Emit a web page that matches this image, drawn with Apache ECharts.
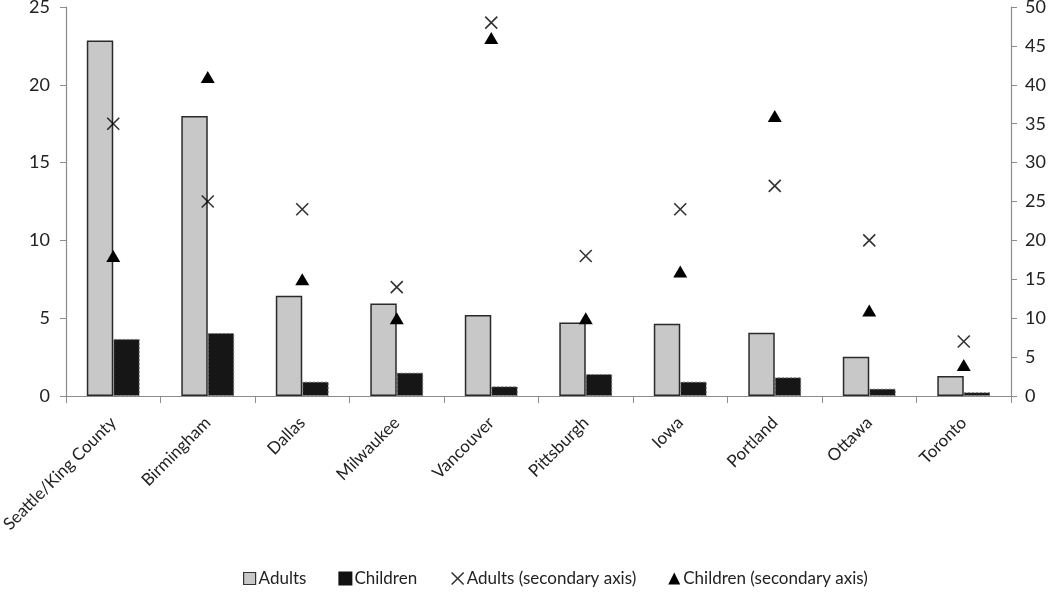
<!DOCTYPE html>
<html><head><meta charset="utf-8">
<script src="https://cdn.jsdelivr.net/npm/echarts@6/dist/echarts.min.js"></script>
<style>html,body{margin:0;padding:0;background:#fff}#c{width:1050px;height:603px}</style>
</head><body><div id="c"></div>
<script>
const categories = ['Seattle/King County','Birmingham','Dallas','Milwaukee','Vancouver','Pittsburgh','Iowa','Portland','Ottawa','Toronto'];
const adults = [22.85, 18.0, 6.45, 5.95, 5.2, 4.72, 4.64, 4.06, 2.52, 1.28];
const children = [3.67, 4.05, 0.92, 1.5, 0.62, 1.41, 0.92, 1.2, 0.47, 0.24];
const adultsSecondary = [35, 25, 24, 14, 48, 18, 24, 27, 20, 7];
const childrenSecondary = [18, 41, 15, 10, 46, 10, 16, 36, 11, 4];
const leftTicks = {min: 0, max: 25, interval: 5};
const rightTicks = {min: 0, max: 50, interval: 5};

const FONT = 'Lato, "Open Sans", sans-serif';
const crossPath = 'path://M0,0L10,10M10,0L0,10';
const chart = echarts.init(document.getElementById('c'));
const axisLine = {show: true, lineStyle: {color: '#8c8c8c', width: 1.2}};
chart.setOption({
  animation: false,
  textStyle: {fontFamily: FONT},
  grid: {left: 66, right: 39, top: 7, bottom: 207, containLabel: false, outerBoundsMode: 'none'},
  legend: {
    bottom: 11, left: 238, itemGap: 32, itemWidth: 12, itemHeight: 12,
    textStyle: {fontFamily: FONT, fontSize: 17, color: '#222', padding: [0,0,0,-2]},
    data: [
      {name: 'Adults', icon: 'rect', itemStyle: {color: '#c8c8c8', borderColor: '#333', borderWidth: 1.2}},
      {name: 'Children', icon: 'rect', itemStyle: {color: '#111', borderColor: '#111'}},
      {name: 'Adults (secondary axis)', icon: crossPath, itemStyle: {color: 'none', borderColor: '#000', borderWidth: 1.6}},
      {name: 'Children (secondary axis)', icon: 'triangle', itemStyle: {color: '#000'}}
    ]
  },
  xAxis: {
    type: 'category', data: categories,
    axisLine: axisLine,
    axisTick: {show: true, length: 7, lineStyle: {color: '#8c8c8c'}},
    axisLabel: {rotate: 45, fontSize: 17, color: '#222', margin: 24, interval: 0, fontFamily: FONT},
    splitLine: {show: false}
  },
  yAxis: [
    {type: 'value', min: leftTicks.min, max: leftTicks.max, interval: leftTicks.interval, position: 'left',
     axisLine: axisLine, axisTick: {show: true, length: 6, lineStyle: {color: '#8c8c8c'}},
     axisLabel: {fontSize: 18, color: '#222', margin: 16, fontFamily: FONT}, splitLine: {show: false}},
    {type: 'value', min: rightTicks.min, max: rightTicks.max, interval: rightTicks.interval, position: 'right',
     axisLine: axisLine, axisTick: {show: true, length: 6, lineStyle: {color: '#8c8c8c'}},
     axisLabel: {fontSize: 18, color: '#222', margin: 14, fontFamily: FONT}, splitLine: {show: false}}
  ],
  series: [
    {name: 'Adults', type: 'bar', yAxisIndex: 0, data: adults, barGap: '0%', barCategoryGap: '44%',
     itemStyle: {color: '#c8c8c8', borderColor: '#2a2a2a', borderWidth: 1.5}},
    {name: 'Children', type: 'bar', yAxisIndex: 0, data: children,
     itemStyle: {color: '#161616', borderColor: '#777', borderWidth: 1, borderType: [2,2]}},
    {name: 'Adults (secondary axis)', type: 'scatter', yAxisIndex: 1, data: adultsSecondary,
     symbol: crossPath, symbolSize: 12, itemStyle: {color: 'none', borderColor: '#000', borderWidth: 1.6}, z: 5},
    {name: 'Children (secondary axis)', type: 'scatter', yAxisIndex: 1, data: childrenSecondary,
     symbol: 'triangle', symbolSize: [14, 12], itemStyle: {color: '#000', opacity: 1}, z: 5}
  ]
});
</script></body></html>
